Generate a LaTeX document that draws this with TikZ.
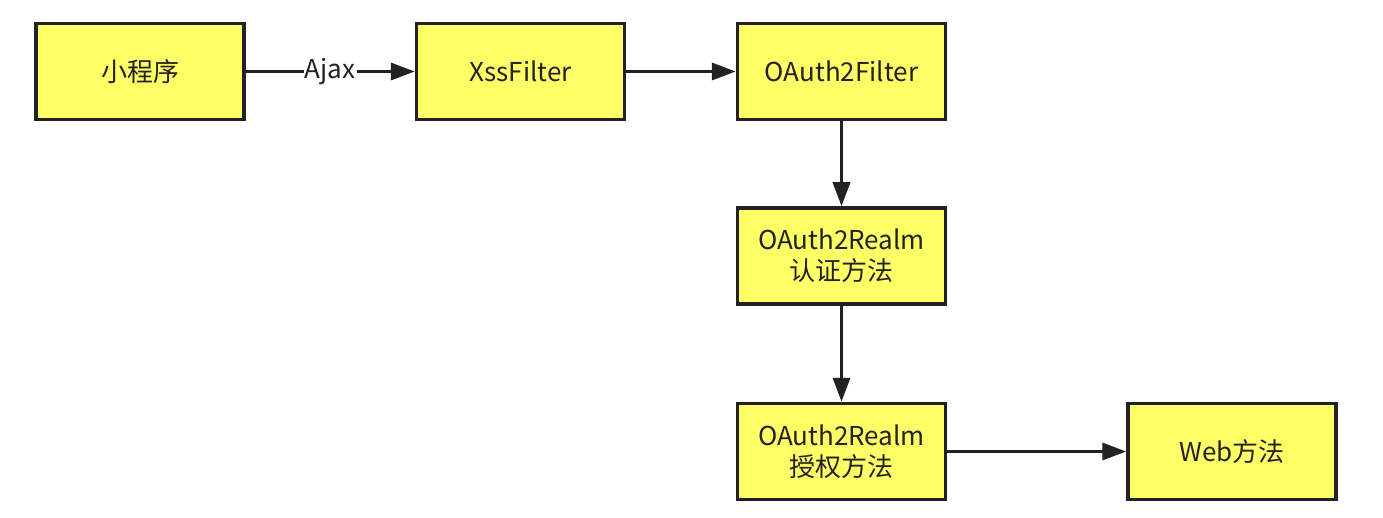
\documentclass[tikz,border=0pt]{standalone}
\usepackage{fontspec}
\setmainfont{Noto Sans CJK SC}
\usetikzlibrary{arrows.meta}
\definecolor{boxfill}{HTML}{FFFF66}
\definecolor{ink}{HTML}{222222}
\begin{document}
\begin{tikzpicture}[x=1pt,y=-1pt,
  box/.style={draw=ink, line width=3.5pt, fill=boxfill, minimum width=208pt, minimum height=96pt, inner sep=0pt, align=center, font=\fontsize{26}{31}\selectfont, text=ink},
  conn/.style={draw=ink, line width=3.5pt, -{Triangle[length=24pt,width=17pt]}}]
\useasboundingbox (0,0) rectangle (1383,518);
\fill[white] (0,0) rectangle (1383,518);
\node[box] (mp) at (140,71.5) {小程序};
\node[box] (xss) at (520.5,71.5) {XssFilter};
\node[box] (oaf) at (841.5,71.5) {OAuth2Filter};
\node[box] (r1) at (841.5,256) {OAuth2Realm\\认证方法};
\node[box] (r2) at (841.5,451.5) {OAuth2Realm\\授权方法};
\node[box] (web) at (1232,451.5) {Web方法};
\draw[conn] (mp) -- node[fill=white, inner sep=1pt, font=\fontsize{26}{30}\selectfont, text=ink] {Ajax} (xss);
\draw[conn] (xss) -- (oaf);
\draw[conn] (oaf) -- (r1);
\draw[conn] (r1) -- (r2);
\draw[conn] (r2) -- (web);
\end{tikzpicture}
\end{document}
